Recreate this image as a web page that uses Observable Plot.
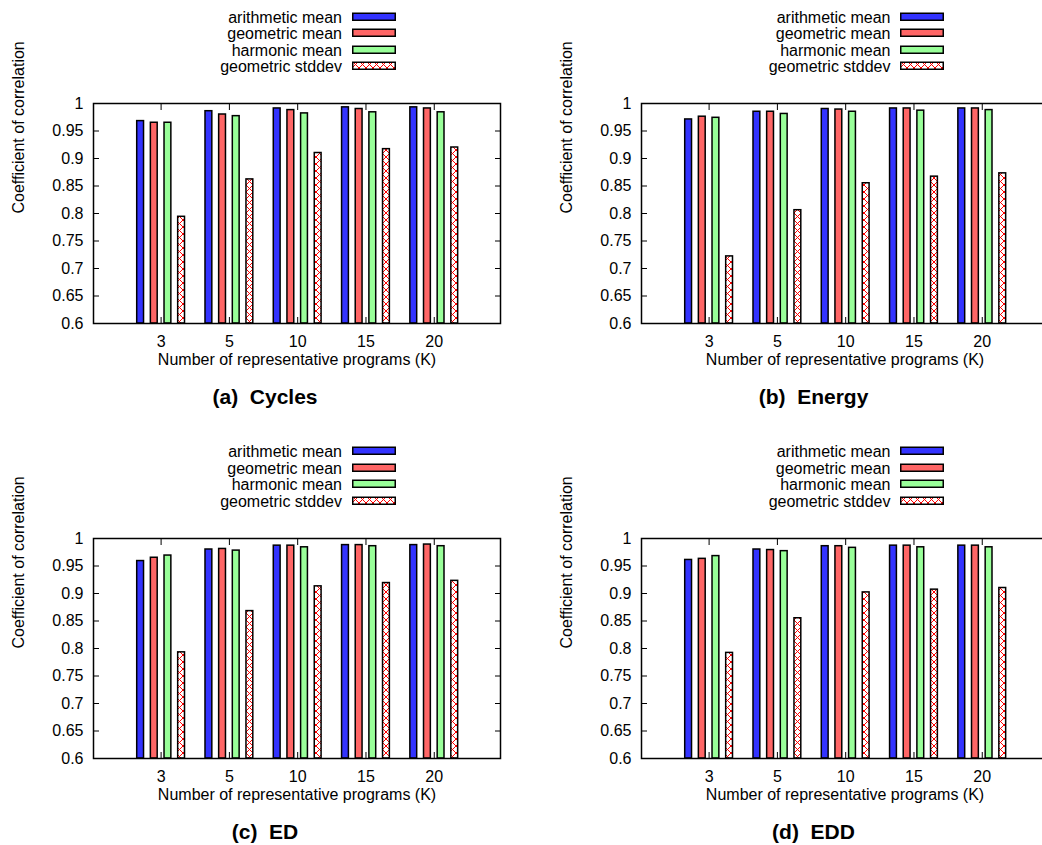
<!DOCTYPE html>
<html><head><meta charset="utf-8">
<script src="https://cdn.jsdelivr.net/npm/d3@7"></script>
<script src="https://cdn.jsdelivr.net/npm/@observablehq/plot@0.6"></script>
<style>
html,body{margin:0;padding:0;background:#fff;overflow:hidden;}
#root{position:relative;width:1042px;height:845px;overflow:hidden;font-family:"Liberation Sans",Arial,Helvetica,sans-serif;color:#000;background:#fff;}
.plot{position:absolute;}
.ltext{position:absolute;width:220px;text-align:right;font-size:16px;line-height:18px;white-space:nowrap;}
.lswatch{position:absolute;}
.caption{position:absolute;width:300px;text-align:center;font-weight:bold;font-size:21px;line-height:24px;white-space:pre;}
</style></head>
<body>
<div id="root">
<svg width="0" height="0" style="position:absolute;left:0;top:0">
  <defs>
    <pattern id="xhatch" patternUnits="userSpaceOnUse" width="7" height="7">
      <rect width="7" height="7" fill="#fff"></rect>
      <path d="M0,0L7,7M7,0L0,7" stroke="#ff0000" stroke-width="1"></path>
    </pattern>
  </defs>
</svg>
</div>
<script>
// ---- data ----
const kLabels = ["3", "5", "10", "15", "20"];
const seriesNames = ["arithmetic mean", "geometric mean", "harmonic mean", "geometric stddev"];
const yTicks = [0.6, 0.65, 0.7, 0.75, 0.8, 0.85, 0.9, 0.95, 1];

const cyclesArith = [0.968, 0.986, 0.991, 0.993, 0.993];
const cyclesGeo   = [0.965, 0.980, 0.988, 0.990, 0.991];
const cyclesHarm  = [0.965, 0.977, 0.982, 0.984, 0.984];
const cyclesStd   = [0.794, 0.862, 0.910, 0.917, 0.920];

const energyArith = [0.971, 0.985, 0.990, 0.991, 0.991];
const energyGeo   = [0.976, 0.985, 0.989, 0.991, 0.991];
const energyHarm  = [0.974, 0.981, 0.985, 0.987, 0.988];
const energyStd   = [0.722, 0.806, 0.855, 0.867, 0.873];

const edArith = [0.959, 0.980, 0.987, 0.988, 0.988];
const edGeo   = [0.965, 0.981, 0.987, 0.988, 0.989];
const edHarm  = [0.969, 0.978, 0.984, 0.986, 0.986];
const edStd   = [0.793, 0.868, 0.913, 0.919, 0.923];

const eddArith = [0.961, 0.980, 0.986, 0.987, 0.987];
const eddGeo   = [0.963, 0.979, 0.986, 0.987, 0.987];
const eddHarm  = [0.968, 0.977, 0.983, 0.984, 0.984];
const eddStd   = [0.792, 0.855, 0.902, 0.907, 0.910];

const captions = ["(a)  Cycles", "(b)  Energy", "(c)  ED", "(d)  EDD"];
const xLabel = "Number of representative programs (K)";
const yLabel = "Coefficient of correlation";

// ---- styles ----
const seriesFills = ["#3333ff", "#ff6666", "#99ff99", "url(#xhatch)"];
const offsets = [-0.3, -0.1, 0.1, 0.3];
const barW = 0.1;
const FONT = '"Liberation Sans", Arial, Helvetica, sans-serif';

const panels = [
  {vals: [cyclesArith, cyclesGeo, cyclesHarm, cyclesStd], col: 0, row: 0},
  {vals: [energyArith, energyGeo, energyHarm, energyStd], col: 1, row: 0},
  {vals: [edArith, edGeo, edHarm, edStd], col: 0, row: 1},
  {vals: [eddArith, eddGeo, eddHarm, eddStd], col: 1, row: 1}
];

const COL = 548.5, ROW = 434.7;
const root = document.getElementById("root");
const yFmt = d => String(+d.toFixed(2));

panels.forEach((p, pi) => {
  const ox = p.col * COL, oy = p.row * ROW;
  const rows = [];
  seriesNames.forEach((s, si) => p.vals[si].forEach((v, gi) => rows.push({gi, si, s, v})));
  const xPos = kLabels.map((k, i) => i);

  const chart = Plot.plot({
    width: 521, height: 300,
    marginLeft: 92, marginRight: 22, marginTop: 23, marginBottom: 57,
    style: {fontFamily: FONT, fontSize: "16px", color: "#000", background: "transparent", overflow: "visible"},
    x: {domain: [-0.99, 4.97], label: null},
    y: {domain: [0.6, 1], label: null},
    color: {type: "ordinal", domain: seriesNames, range: seriesFills},
    marks: [
      Plot.rect(rows, {
        x1: d => d.gi + offsets[d.si] - barW / 2,
        x2: d => d.gi + offsets[d.si] + barW / 2,
        y1: () => 0.6, y2: "v",
        fill: "s", stroke: "#000", strokeWidth: 1.5
      }),
      Plot.axisX(xPos, {anchor: "bottom", label: null, tickSize: -6, tickPadding: 18, tickFormat: i => kLabels[i]}),
      Plot.axisX(xPos, {anchor: "top", label: null, tickSize: -6, tickFormat: () => ""}),
      Plot.axisY(yTicks, {anchor: "left", label: null, tickSize: -6, tickPadding: 16, tickFormat: yFmt}),
      Plot.axisY(yTicks, {anchor: "right", label: null, tickSize: -6, tickFormat: () => ""}),
      Plot.frame({stroke: "#000", strokeWidth: 1.5}),
      Plot.text([yLabel], {text: d => d, frameAnchor: "left", rotate: -90, dx: -75, fill: "#000"}),
      Plot.text([xLabel], {text: d => d, frameAnchor: "bottom", dy: 41, fill: "#000"})
    ]
  });
  chart.classList.add("plot");
  chart.style.left = (0.5 + ox) + "px";
  chart.style.top = (80 + oy) + "px";
  root.appendChild(chart);

  // legend
  seriesNames.forEach((s, si) => {
    const cy = 16.5 + 16.5 * si + oy;
    const t = document.createElement("div");
    t.className = "ltext";
    t.textContent = s;
    t.style.left = (342 + ox - 220) + "px";
    t.style.top = (cy - 8) + "px";
    root.appendChild(t);
    const sw = document.createElementNS("http://www.w3.org/2000/svg", "svg");
    sw.setAttribute("class", "lswatch");
    sw.setAttribute("width", 45); sw.setAttribute("height", 10);
    sw.style.left = (351.5 + ox) + "px";
    sw.style.top = (cy - 5) + "px";
    const r = document.createElementNS("http://www.w3.org/2000/svg", "rect");
    r.setAttribute("x", 0.75); r.setAttribute("y", 1.25);
    r.setAttribute("width", 42.5); r.setAttribute("height", 7);
    r.setAttribute("fill", seriesFills[si]);
    r.setAttribute("stroke", "#000"); r.setAttribute("stroke-width", 1.5);
    sw.appendChild(r);
    root.appendChild(sw);
  });

  // caption
  const c = document.createElement("div");
  c.className = "caption";
  c.textContent = captions[pi];
  c.style.left = (265 + ox - 150) + "px";
  c.style.top = (385 + oy) + "px";
  root.appendChild(c);
});
</script>
</body></html>
